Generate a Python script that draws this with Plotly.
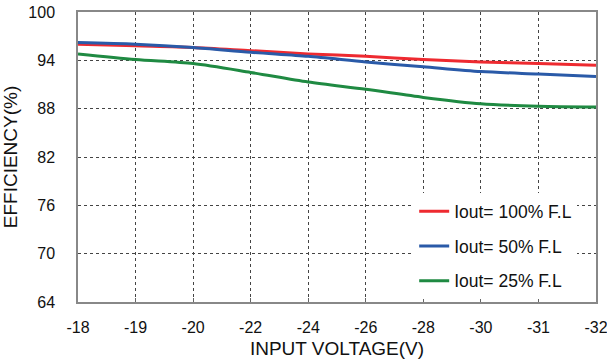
import plotly.graph_objects as go

# input voltage categories (evenly spaced on the chart)
vin = ['-18', '-19', '-20', '-22', '-24', '-26', '-28', '-30', '-31', '-32']

eff_100 = [96.0, 95.8, 95.6, 95.2, 94.8, 94.5, 94.1, 93.8, 93.6, 93.4]
eff_50 = [96.2, 96.0, 95.6, 95.0, 94.5, 93.8, 93.2, 92.6, 92.3, 92.0]
eff_25 = [94.8, 94.1, 93.6, 92.5, 91.3, 90.4, 89.4, 88.6, 88.3, 88.2]

fig = go.Figure()
for name, ys, col in [('Iout= 100% F.L', eff_100, '#ee2a30'),
                      ('Iout= 50% F.L', eff_50, '#2a5aa8'),
                      ('Iout= 25% F.L', eff_25, '#1f8a42')]:
    fig.add_trace(go.Scatter(x=vin, y=ys, mode='lines', name=name, legendgroup=name,
                             line=dict(color=col, width=3, shape='spline', smoothing=0.8)))

fig.update_layout(
    width=607, height=363,
    margin=dict(l=78, r=11, t=12, b=61, autoexpand=False),
    plot_bgcolor='white', paper_bgcolor='white',
    font=dict(family='Liberation Sans, Arial', size=16, color='#111'),
    legend=dict(x=0.649, y=0.375, xanchor='left', yanchor='top', bgcolor='white',
                font=dict(size=17.5), tracegroupgap=9),
)
fig.update_xaxes(type='category', range=[0, 9], showline=True, mirror=True,
                 linecolor='#888', linewidth=1.5, ticks='inside', ticklen=4, tickcolor='#666',
                 showgrid=True, gridcolor='#444', gridwidth=1, griddash='dot', automargin=False,
                 ticklabelstandoff=10, title=dict(text='INPUT VOLTAGE(V)', standoff=7),
                 zeroline=False)
fig.update_yaxes(range=[64, 100], tickvals=[64, 70, 76, 82, 88, 94, 100], showline=True, mirror=True,
                 linecolor='#888', linewidth=1.5, ticks='', showgrid=True, gridcolor='#444',
                 gridwidth=1, griddash='dot', title=dict(text='EFFICIENCY(%)', standoff=12),
                 automargin=False, zeroline=False, ticklabelstandoff=18)

# drop the default page margin so the figure sits at the window's corner
fig.write_html("out.html", config={'displayModeBar': False},
               post_script="document.body.style.margin='0';")
